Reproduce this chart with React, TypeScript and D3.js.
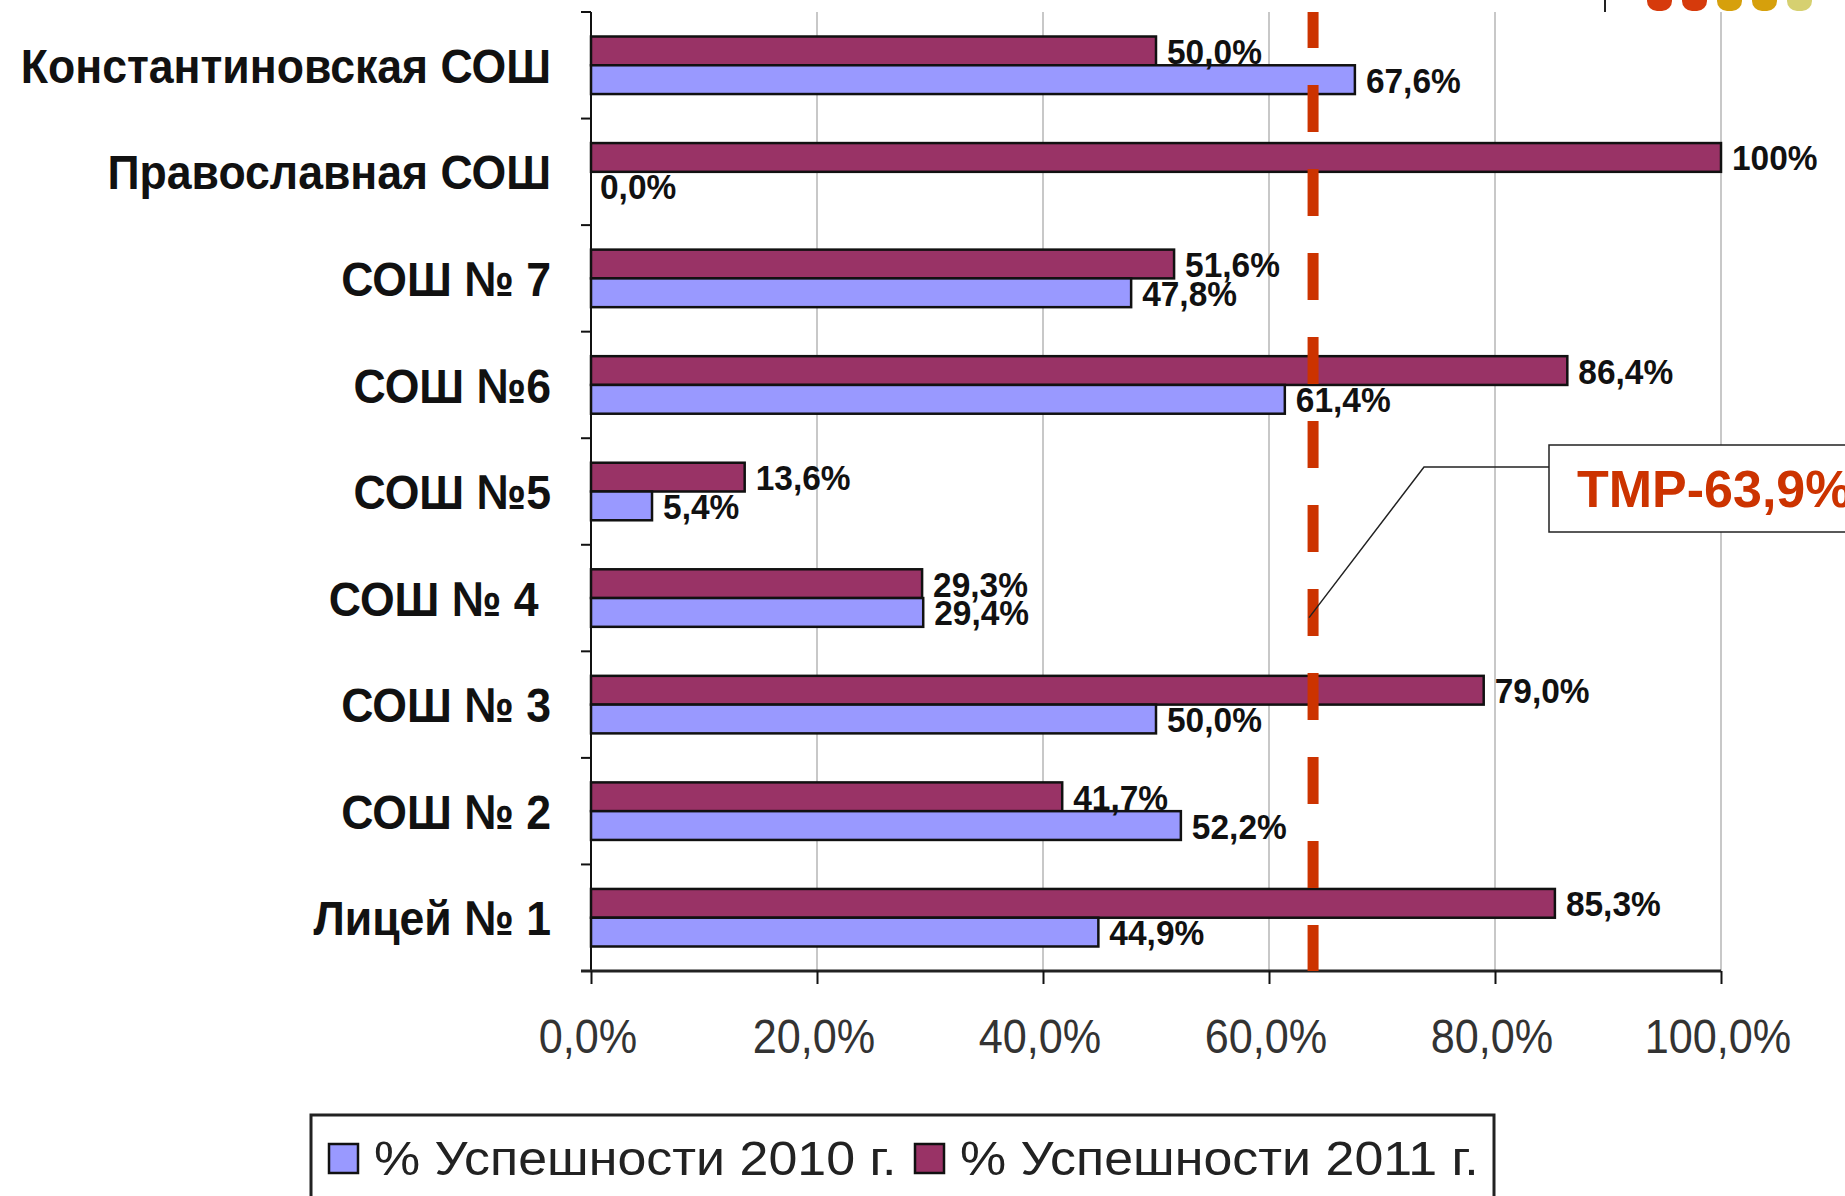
import React, { useEffect, useRef } from "react";
import * as d3 from "d3";

// chart data, top to bottom as drawn
const categories = [
  "Константиновская СОШ",
  "Православная СОШ",
  "СОШ № 7",
  "СОШ №6",
  "СОШ №5",
  "СОШ № 4 ",
  "СОШ № 3",
  "СОШ № 2",
  "Лицей № 1",
];
const values2010 = [67.6, 0.0, 47.8, 61.4, 5.4, 29.4, 50.0, 52.2, 44.9];
const values2011 = [50.0, 100, 51.6, 86.4, 13.6, 29.3, 79.0, 41.7, 85.3];
const labels2010 = ["67,6%", "0,0%", "47,8%", "61,4%", "5,4%", "29,4%", "50,0%", "52,2%", "44,9%"];
const labels2011 = ["50,0%", "100%", "51,6%", "86,4%", "13,6%", "29,3%", "79,0%", "41,7%", "85,3%"];
const seriesNames = ["% Успешности 2010 г.", "% Успешности 2011 г."];
const seriesColors = ["#9999ff", "#993366"];
const xTicks = [0, 20, 40, 60, 80, 100];
const xTickLabels = ["0,0%", "20,0%", "40,0%", "60,0%", "80,0%", "100,0%"];
const targetValue = 63.9;
const targetLabel = "ТМР-63,9%";
const decoColors = ["#d63a0c", "#d63a0c", "#d6a00c", "#d6a00c", "#d6d070"];

const App = () => {
  const ref = useRef(null);

  useEffect(() => {
    const width = 1845;
    const height = 1196;
    const marginLeft = 591;
    const plotRight = 1721;
    const marginTop = 12;
    const axisY = 971;
    const font = "'Liberation Sans', Arial, sans-serif";

    const svg = d3
      .select(ref.current)
      .attr("width", width)
      .attr("height", height)
      .attr("viewBox", [0, 0, width, height]);

    svg.selectAll("*").remove();

    svg.append("rect").attr("width", width).attr("height", height).attr("fill", "#fff");

    const x = d3.scaleLinear().domain([0, 100]).range([marginLeft, plotRight]);
    const y = d3
      .scaleBand()
      .domain(categories)
      .range([marginTop, axisY])
      .paddingInner(0.46)
      .paddingOuter(0.23);
    const sub = d3.scaleBand().domain(["2011", "2010"]).range([0, y.bandwidth()]);

    // gridlines
    svg
      .append("g")
      .selectAll("line")
      .data(xTicks.slice(1))
      .join("line")
      .attr("x1", (d) => x(d))
      .attr("x2", (d) => x(d))
      .attr("y1", marginTop)
      .attr("y2", axisY)
      .attr("stroke", "#c8c8c8")
      .attr("stroke-width", 2);

    // bars
    const rows = categories.map((c, i) => ({
      cat: c,
      "2010": values2010[i],
      "2011": values2011[i],
      l2010: labels2010[i],
      l2011: labels2011[i],
    }));

    const groups = svg
      .append("g")
      .selectAll("g")
      .data(rows)
      .join("g")
      .attr("transform", (d) => `translate(0,${y(d.cat)})`);

    ["2011", "2010"].forEach((key) => {
      const color = key === "2010" ? seriesColors[0] : seriesColors[1];
      groups
        .append("rect")
        .attr("x", x(0))
        .attr("y", sub(key))
        .attr("width", (d) => x(d[key]) - x(0))
        .attr("height", sub.bandwidth())
        .attr("fill", color)
        .attr("stroke", "#111")
        .attr("stroke-width", 2.5)
        .attr("display", (d) => (d[key] > 0 ? null : "none"));
    });

    ["2011", "2010"].forEach((key) => {
      groups
        .append("text")
        .attr(
          "transform",
          (d) =>
            `translate(${x(d[key]) + (d[key] > 0 ? 11 : 9)},${sub(key) + sub.bandwidth() / 2}) scale(0.93,1)`
        )
        .attr("dy", "0.36em")
        .attr("font-family", font)
        .attr("font-weight", "bold")
        .attr("font-size", 36)
        .attr("fill", "#111")
        .text((d) => (key === "2010" ? d.l2010 : d.l2011));
    });

    // y axis
    svg
      .append("line")
      .attr("x1", marginLeft)
      .attr("x2", marginLeft)
      .attr("y1", marginTop)
      .attr("y2", axisY)
      .attr("stroke", "#111")
      .attr("stroke-width", 2);
    svg
      .append("g")
      .selectAll("line")
      .data(d3.range(categories.length + 1))
      .join("line")
      .attr("x1", marginLeft - 10)
      .attr("x2", marginLeft)
      .attr("y1", (i) => marginTop + i * y.step())
      .attr("y2", (i) => marginTop + i * y.step())
      .attr("stroke", "#111")
      .attr("stroke-width", 2);

    svg
      .append("g")
      .selectAll("text")
      .data(categories)
      .join("text")
      .attr("transform", (d) => `translate(${marginLeft - 40},${y(d) + y.bandwidth() / 2}) scale(0.91,1)`)
      .attr("dy", "0.36em")
      .attr("text-anchor", "end")
      .attr("font-family", font)
      .attr("font-weight", "bold")
      .attr("font-size", 49)
      .attr("fill", "#111")
      .style("white-space", "pre")
      .text((d) => d);

    // x axis
    svg
      .append("g")
      .attr("transform", `translate(0,${axisY})`)
      .call(
        d3
          .axisBottom(x)
          .tickValues(xTicks)
          .tickFormat((d, i) => xTickLabels[i])
          .tickSize(13)
          .tickPadding(0)
          .tickSizeOuter(0)
      )
      .call((g) => g.select(".domain").attr("stroke", "#222").attr("stroke-width", 3).attr("d", `M${marginLeft - 10},0H${plotRight}`))
      .call((g) => g.selectAll(".tick line").attr("stroke", "#111").attr("stroke-width", 2))
      .call((g) =>
        g
          .selectAll(".tick text")
          .attr("x", -4)
          .attr("y", 82)
          .attr("dy", 0)
          .attr("transform", "scale(0.9,1)")
          .attr("font-family", font)
          .attr("font-size", 48)
          .attr("fill", "#333")
      );

    // target line
    svg
      .append("line")
      .attr("x1", x(targetValue))
      .attr("x2", x(targetValue))
      .attr("y1", marginTop)
      .attr("y2", axisY)
      .attr("stroke", "#cc3300")
      .attr("stroke-width", 11)
      .attr("stroke-dasharray", "47 37")
      .attr("stroke-dashoffset", 11);

    // annotation
    const tipY = y(categories[5]) + y.bandwidth() * 0.84;
    svg
      .append("path")
      .attr("d", `M${x(targetValue) - 4},${tipY}L1424,467H1549`)
      .attr("fill", "none")
      .attr("stroke", "#222")
      .attr("stroke-width", 1.5);
    svg
      .append("rect")
      .attr("x", 1549)
      .attr("y", 445)
      .attr("width", 320)
      .attr("height", 87)
      .attr("fill", "#fff")
      .attr("stroke", "#222")
      .attr("stroke-width", 1.5);
    svg
      .append("text")
      .attr("x", 1577)
      .attr("y", 507)
      .attr("font-family", font)
      .attr("font-weight", "bold")
      .attr("font-size", 52)
      .attr("fill", "#cc3300")
      .text(targetLabel);

    // legend
    const legend = svg.append("g");
    legend
      .append("rect")
      .attr("x", 311)
      .attr("y", 1115)
      .attr("width", 1183)
      .attr("height", 100)
      .attr("fill", "#fff")
      .attr("stroke", "#222")
      .attr("stroke-width", 3);
    const legendX = [329, 915];
    seriesNames.forEach((name, i) => {
      legend
        .append("rect")
        .attr("x", legendX[i])
        .attr("y", 1144)
        .attr("width", 29)
        .attr("height", 29)
        .attr("fill", seriesColors[i])
        .attr("stroke", "#111")
        .attr("stroke-width", 2.5);
      legend
        .append("text")
        .attr("transform", `translate(${legendX[i] + 45},1175) scale(1.06,1)`)
        .attr("font-family", font)
        .attr("font-size", 49)
        .attr("fill", "#222")
        .text(name);
    });

    // slide decoration top right
    svg
      .append("line")
      .attr("x1", 1605)
      .attr("x2", 1605)
      .attr("y1", 0)
      .attr("y2", 12)
      .attr("stroke", "#222")
      .attr("stroke-width", 2);
    svg
      .append("g")
      .selectAll("rect")
      .data(decoColors)
      .join("rect")
      .attr("x", (d, i) => 1647 + i * 35)
      .attr("y", -14)
      .attr("width", 25)
      .attr("height", 25)
      .attr("rx", 10)
      .attr("fill", (d) => d);
  }, []);

  return <svg ref={ref} style={{ position: "absolute", left: 0, top: 0 }}></svg>;
};

export default App;
